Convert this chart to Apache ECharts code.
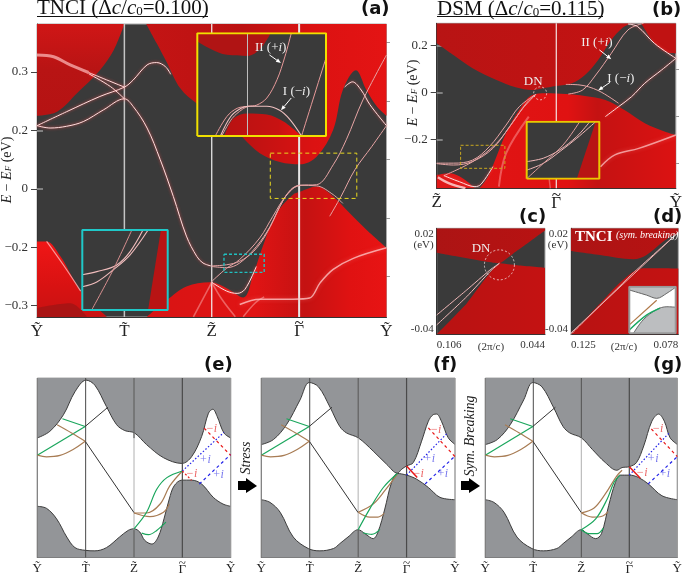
<!DOCTYPE html>
<html><head><meta charset="utf-8">
<style>html,body{margin:0;padding:0;background:#fff}#c{width:685px;height:576px}</style>
<script src="https://cdn.jsdelivr.net/npm/echarts@6/dist/echarts.min.js"></script>
</head><body><div id="c"></div>
<script>
// ---------- tick labels ----------
const pathLabelsA = ['Ỹ','T̃','Z̃','{t|~}\n{g|Γ}','Ỹ'];
const pathLabelsB = ['Z̃','{t|~}\n{g|Γ}','Ỹ'];
const yTickLabelsA = ['−0.3','−0.2','0','0.2','0.3'];
// ---------- panel (a): x = path position, y = tick position ----------
const aUpLeft = [[0,1.25],[.23,1.32],[.46,1.64],[.72,2.03],[.88,2.38],[1,2.82]];
const aUpRight = [[1.25,2.82],[1.37,2.49],[1.49,2.15],[1.64,1.72],[1.83,1.46],[2,1.35],[2.17,1.18],[2.36,.87],[2.55,.61],[2.78,.46],[3.01,.42],[3.2,.55],[3.39,1.01],[3.5,1.69],[3.65,2.03],[3.77,1.69],[3.89,1.41],[4,1.25]];
const aLowLeft = [[0,-.9],[.11,-.9],[.27,-1.16],[.4,-1.5],[.53,-1.81],[.69,-2.04],[.8,-2.19]];
const aLowPatch = [[0,-2.04],[.38,-1.96],[.57,-2.19]];
const aLowMid = [[1.26,-2.19],[1.49,-1.9],[1.71,-1.67],[1.98,-1.6],[2.17,-1.7],[2.36,-1.86],[2.48,-1.44],[2.59,-.96],[2.74,-.42],[2.93,-.1],[3.01,-.05],[3.2,.04],[3.39,-.13],[3.58,-.42],[3.77,-.7],[4,-1.01]];
const aBandA = [[0,1.08],[.15,1.04],[.34,1.07],[.53,1.15],[.76,1.35],[1,1.54],[1.1,1.41],[1.26,1.04],[1.41,.5],[1.56,-.13],[1.71,-.81],[1.83,-1.16],[1.9,-1.27],[1.99,-1.32]];
const aBandB = [[0,1.08],[.34,1.32],[.72,1.58],[1,1.74],[1.1,1.86],[1.26,2.12],[1.37,2.16],[1.47,2.09],[1.53,1.96]];
const aBandC = [[.59,1.99],[1,1.74]];
const aBandD = [[.59,1.97],[.84,1.75],[1,1.54]];
const aGlowTop = [[0,2.29],[.19,2.26],[.38,2.12],[.59,1.99]];
const aL1 = [[2,-1.32],[2.17,-1.3],[2.32,-1.24],[2.48,-1.07],[2.63,-.76],[2.78,-.3],[2.9,-.02],[3.01,.06],[3.2,.05],[3.39,-.1],[3.5,-.25]];
const aL2 = [[2,-1.33],[2.17,-1.35],[2.32,-1.27],[2.51,-.99],[2.67,-.64],[2.82,-.19],[2.93,.01],[3.01,.06]];
const aL3 = [[1.99,-1.6],[2.17,-1.36],[2.32,-1.21],[2.55,-.84],[2.7,-.47],[2.86,-.1],[3.01,.06],[3.2,.07],[3.39,.41],[3.54,.84],[3.73,1.52],[4,2.29]];
const aL4 = [[2,-1.6],[2.17,-1.75],[2.29,-1.79],[2.38,-1.72],[2.51,-1.33]];
const aL5 = [[3.35,-.47],[3.48,-.13],[3.64,.33],[3.83,.72],[4,1.08]];
const aL6 = [[3.52,1.74],[3.61,1.83],[3.71,1.69],[3.81,1.44],[4,1.08]];
const aL7 = [[2.32,-1.98],[2.55,-1.89],[2.93,-1.89],[3.12,-1.87],[3.24,-1.61],[3.39,-1.38],[3.62,-1.19],[4,-1.01]];
const aL8 = [[.11,-.9],[.3,-1.3],[.5,-1.75]];
const aFan1 = [[1.79,-2.19],[2,-1.6]];
const aFan2 = [[2,-1.6],[2.12,-1.9],[2.27,-2.19]];
const aFan3 = [[2.36,-2.19],[2.5,-1.95],[2.6,-1.85]];
const aBoxYellow = [[2.67,.61],[3.66,.61],[3.66,-.165],[2.67,-.165],[2.67,.61]];
const aBoxCyan = [[2.14,-1.12],[2.6,-1.12],[2.6,-1.43],[2.14,-1.43],[2.14,-1.12]];
// inset of (a), yellow, normalised
const yiRedTop = [[0,.92],[.1,.85],[.23,.79],[.39,.78],[.49,.85],[.57,1]];
const yiRedLow = [[.21,0],[.28,.17],[.39,.22],[.54,.21],[.67,.14],[.81,0]];
const yiII = [[.14,0],[.23,.19],[.31,.27],[.4,.29],[.46,.3],[.54,.37],[.62,.55],[.68,.77],[.73,1]];
const yiI = [[.18,0],[.26,.19],[.34,.27],[.4,.29],[.54,.29],[.64,.25],[.72,.16],[.81,0]];
const yiThird = [[.19,0],[.27,.17],[.35,.26],[.4,.29]];
const yiRight = [[.81,0],[1,.76]];
// inset of (a), cyan, normalised
const ciRed = [[.77,0],[.92,1],[1,1]];
const ciL1 = [[0,.44],[.17,.48],[.4,.56],[.56,.73],[.71,1]];
const ciL2 = [[0,.29],[.17,.35],[.36,.5],[.56,.69],[.77,1]];
const ciL3 = [[.11,0],[.36,.5],[.58,1]];
// ---------- panel (b): x = path position, y = eV ----------
const bUpLeft = [[0,.21],[.14,.16],[.3,.104],[.5,.054],[.66,.023],[.8,.011],[.88,.018],[1,.028],[1.13,.04],[1.24,.075],[1.35,.139],[1.46,.224],[1.55,.274],[1.62,.295]];
const bUpRight = [[1.71,.295],[1.82,.21],[1.91,.174],[2,.167]];
const bLowLeft = [[0,-.35],[.11,-.343],[.22,-.365],[.32,-.407]];
const bLowRight = [[.36,-.407],[.43,-.357],[.5,-.272],[.58,-.173],[.69,-.074],[.8,-.01],[.91,-.003],[1.08,-.006],[1.24,-.014],[1.41,-.031],[1.57,-.074],[1.74,-.13],[1.91,-.166],[2,-.18]];
const bB1 = [[0,-.3],[.14,-.3],[.3,-.287],[.44,-.23],[.58,-.138],[.69,-.06],[.83,-.007]];
const bB2 = [[0,-.302],[.14,-.308],[.3,-.293],[.47,-.237],[.61,-.145],[.72,-.067],[.83,-.007]];
const bB3 = [[.06,-.353],[.3,-.294],[.5,-.216],[.64,-.123],[.75,-.045],[.83,-.007]];
const bB4 = [[.06,-.353],[.19,-.379],[.32,-.4],[.37,-.39],[.47,-.315]];
const bI = [[1.08,.035],[1.19,.033],[1.35,.009],[1.52,-.045]];
const bII = [[1.1,-.006],[1.22,.011],[1.33,.075],[1.46,.167],[1.6,.267],[1.73,.295]];
const bPeak = [[1.6,.292],[1.68,.281],[1.82,.21],[2,.146]];
const bLow = [[1.41,-.102],[1.52,-.06],[1.63,-.017],[1.74,.04],[1.88,.096],[2,.146]];
const bGlow1 = [[1.37,-.315],[1.49,-.265],[1.69,-.237],[2,-.18]];
const bGlow2 = [[.52,-.4],[.58,-.258],[.77,-.102]];
const bGlow3 = [[.01,-.36],[.1,-.385],[.24,-.407]];
const bGlow4 = [[.9,-.2],[.93,-.32],[.95,-.407]];
const bBox = [[.2,-.224],[.57,-.224],[.57,-.322],[.2,-.322],[.2,-.224]];
const bDN = [[.865,-.003]];
// inset of (b), normalised
const biRed = [[.69,0],[.95,1],[1,1]];
const biL1 = [[0,.3],[.23,.36],[.46,.51],[.69,.74],[.87,1]];
const biL2 = [[0,.15],[.23,.27],[.46,.48],[.69,.71],[.95,1]];
const biL3 = [[0,0],[.23,.27],[.5,.59],[.73,1]];
// ---------- panel (c): x = 2π/c, y = eV ----------
const cUp = [[.106,.0062],[.0701,.0002],[.0621,.0058],[.0526,.0125],[.044,.0187]];
const cLow = [[.106,-.04],[.0888,-.0225],[.0701,.0002],[.0602,-.0009],[.044,-.0023]];
const cL1 = [[.106,-.0291],[.0888,-.0149],[.0755,-.0036],[.0701,.0002]];
const cL2 = [[.106,-.0347],[.0888,-.0187],[.0755,-.0045],[.0701,.0002]];
const cDN = [[.0701,-.0007]];
// ---------- panel (d) ----------
const dUp = [[.125,.0072],[.1123,.0049],[.0977,.0025],[.0919,.0049],[.0846,.0125],[.078,.0177]];
const dLow = [[.125,-.04],[.1123,-.0225],[.1006,-.0074],[.0933,-.0026],[.086,-.0026],[.078,-.0028]];
const dL1 = [[.125,-.0392],[.078,.0177]];
const dL2 = [[.125,-.04],[.1123,-.0237],[.0977,-.0052],[.078,.0177]];
const diUp = [[0,.93],[.37,.82],[.59,.75],[.81,.86],[1,.99]];
const diLow = [[.09,0],[.3,.29],[.59,.51],[.81,.57],[1,.56]];
const diBrown = [[0,.18],[.59,.71]];
const diGreen = [[0,.07],[.37,.39],[.66,.54]];
// ---------- panels (e)(f)(g): x = path position, y = schematic energy 0-100 ----------
const eUp = [[0,66.6],[.26,70.3],[.54,79.5],[.78,92.4],[1.01,98.8],[1.19,96],[1.43,84.1],[1.64,74],[1.81,70.7],[2.01,69.4],[2.26,62.9],[2.61,55.6],[2.99,52.4],[3.19,56.1],[3.4,67.5],[3.54,80.4],[3.63,82.6],[3.72,78.6],[3.86,69.4],[4,66.6]];
const eLow = [[0,28.5],[.19,27.4],[.4,21.5],[.61,11.4],[.78,5.5],[.99,4],[1.19,3.7],[1.43,5.5],[1.7,11.4],[1.88,15.1],[2,16],[2.12,14.2],[2.22,9.6],[2.37,7.5],[2.5,11.4],[2.62,21.5],[2.73,32.6],[2.83,39.9],[2.99,43.1],[3.19,43.1],[3.4,40.9],[3.64,33.5],[3.84,29.8],[4,28.5]];
const fUp = [[0,62.9],[.25,65.7],[.52,74],[.8,87.8],[.99,97.5],[1.18,95.1],[1.42,83.7],[1.62,73],[1.76,69.4],[2,66.7],[2.31,59.3],[2.59,51.9],[2.81,47],[2.9,49.2],[3,51],[3.14,52.9],[3.31,64.8],[3.45,75.9],[3.55,79.6],[3.62,79.9],[3.72,75.9],[3.86,66.7],[4,63]];
const fLow = [[0,32.2],[.18,30.7],[.39,25.2],[.66,11.4],[.97,5],[1.21,3.7],[1.49,5],[1.62,7.7],[1.79,11.4],[2,15.5],[2.14,13.3],[2.31,10.5],[2.41,14.2],[2.55,27],[2.69,41.8],[2.81,46.8],[3,45.9],[3.21,43.6],[3.45,39],[3.69,33.5],[4,32.2]];
const gUp = [[0,62.9],[.25,65.7],[.52,74],[.8,87.8],[.99,97.5],[1.18,95.1],[1.42,83.7],[1.62,73],[1.76,69.4],[2,66.7],[2.23,60.2],[2.5,52.9],[2.74,48.6],[2.85,50.1],[3,50.6],[3.15,52.9],[3.3,62.1],[3.47,75.9],[3.61,79.9],[3.73,75.9],[3.85,66.7],[4,63]];
const gLow = [[0,32.2],[.18,30.7],[.39,25.2],[.66,11.4],[.97,5],[1.21,3.7],[1.49,5],[1.62,7.7],[1.79,11.4],[2,15.5],[2.12,13.3],[2.3,10.5],[2.42,13.3],[2.57,28.9],[2.71,41.8],[2.81,45.9],[3,45.9],[3.19,44.6],[3.4,40.9],[3.68,34.4],[4,32.2]];
const sGreenL = [[0,57],[.99,73]];
const sGreenS = [[.52,77.3],[.99,73]];
const sBlackUp = [[.99,73],[1.46,83.7]];
const sBrownA = [[0,57],[.19,56.1],[.47,56.9],[.74,60.2],[.99,64.8]];
const sBrownB = [[.41,74],[.71,69.4],[.99,64.8]];
const sBlackDown = [[.99,64.8],[2,25]];
const eBrown1 = [[2,24.8],[2.26,24.8],[2.54,29.8],[2.74,39.9],[3,48.2]];
const eBrown2 = [[2,24.8],[2.33,22.8],[2.61,25.2],[2.73,29.8]];
const eGreen1 = [[2,16],[2.26,25.2],[2.47,38],[2.68,44.5],[3,48.2]];
const eGreen2 = [[2.16,13.6],[2.3,12.7],[2.47,15.1],[2.66,19.7]];
const eDot = [[3,48.2],[3.86,69.7]], eDash = [[3.35,40.9],[4,57.4]], eRed1 = [[3,48.2],[3.19,43]], eRed2 = [[3.45,72.1],[4,56.9]];
const fBrown1 = [[2,25.2],[2.31,29.8],[2.55,37.2],[2.81,46.4]];
const fBrown2 = [[2,25.2],[2.24,22.5],[2.41,22.5],[2.54,24.7]];
const fGreen1 = [[2,15.5],[2.24,27.1],[2.52,39],[2.81,46.8]];
const fGreen2 = [[2.1,13.8],[2.28,12.9],[2.45,15.7]];
const fDot = [[3,45.9],[3.83,69]], fDash = [[3.38,40.9],[4,56.5]], fRed1 = [[3,51],[3.22,44.6]], fRed2 = [[3.45,72.2],[4,56.2]];
const gBrown1 = [[2,24.9],[2.26,27.4],[2.5,35.4],[2.74,45.5],[2.85,48.6]];
const gBrown2 = [[2,24.9],[2.23,22.5],[2.43,23],[2.56,25.6]];
const gGreen1 = [[2,15.5],[2.3,21.5],[2.54,32.6],[2.68,41.8],[2.81,45.9]];
const gGreen2 = [[2,15.5],[2.16,13.3],[2.33,13.3],[2.46,16.4]];
const gDot = [[3,45.9],[3.83,69.4]], gDash = [[3.39,40.9],[4,56.2]], gRed1 = [[3,50.6],[3.23,44.2]], gRed2 = [[3.46,71.6],[4,56.2]];

// ---------- builders ----------
const SERIF = '"Liberation Serif","DejaVu Serif",serif';
const DARK = '#3a3a3a', GRAY = '#939598', PINK = '#ffdede';
const grids = [], xAxes = [], yAxes = [], series = [];
const chart = echarts.init(document.getElementById('c'));
const grad = (stops, v) => new echarts.graphic.LinearGradient(0, 0, v?0:1, v?1:0, stops.map(s => ({offset:s[0], color:s[1]})));
const gammaRich = size => ({
  g:{fontFamily:SERIF,fontSize:size,color:'#222',lineHeight:size-3},
  t:{fontFamily:SERIF,fontSize:size,color:'#222',lineHeight:2}});

function addGrid(o) {
  const g = grids.length;
  grids.push({left:o.l, top:o.t, width:o.w, height:o.h, containLabel:false, show:!!o.bg,
    backgroundColor:o.bg||'transparent', borderColor:o.border||'#aaa', borderWidth:o.bg?1:0});
  const hidden = {show:false};
  xAxes.push(Object.assign({gridIndex:g, type:'value', min:o.x[0], max:o.x[1], splitLine:hidden,
    axisLine:o.xl?{show:true,onZero:false,lineStyle:{color:'#333',width:1}}:hidden, axisTick:hidden,
    axisLabel:o.xl?o.xl:hidden}, o.xo||{}));
  const yi = yAxes.length;
  yAxes.push({gridIndex:g, type:'value', min:o.y[0], max:o.y[1], splitLine:hidden,
    axisLine:o.yl?{show:true,onZero:false,lineStyle:{color:'#333',width:1}}:hidden,
    axisTick:o.ym?{show:true,length:6,customValues:o.ym,lineStyle:{color:'#444'}}:hidden,
    axisLabel:o.yl||hidden});
  if (o.ym) {
    yAxes.push({gridIndex:g,type:'value',min:o.y[0],max:o.y[1],position:'right',splitLine:hidden,
      axisLine:{show:false},axisLabel:hidden,axisTick:{show:true,length:6,customValues:o.ym,lineStyle:{color:'#999',width:1.5}}});
    yAxes.push({gridIndex:g,type:'value',min:o.y[0],max:o.y[1],splitLine:hidden,
      axisLine:{show:false},axisLabel:hidden,axisTick:{show:true,length:3,customValues:o.yn,lineStyle:{color:'#444'}}});
    yAxes.push({gridIndex:g,type:'value',min:o.y[0],max:o.y[1],position:'right',splitLine:hidden,
      axisLine:{show:false},axisLabel:hidden,axisTick:{show:true,length:3,customValues:o.yn,lineStyle:{color:'#999'}}});
  }
  return {x:g, y:yi};
}
function area(g, pts, dir, color, z, border, smooth) {
  series.push({type:'line', xAxisIndex:g.x, yAxisIndex:g.y, data:pts, smooth:smooth===undefined?.35:smooth, showSymbol:false, silent:true, animation:false, z:z||2,
    lineStyle: border?{color:border,width:1}:{width:0,opacity:0},
    areaStyle:{origin:dir==='up'?'end':'start', color:color, opacity:1}});
}
function line(g, pts, color, width, o) {
  o = o||{};
  series.push({type:'line', xAxisIndex:g.x, yAxisIndex:g.y, data:pts, smooth:o.smooth===undefined?.35:o.smooth, showSymbol:false, silent:true, animation:false, z:o.z||3,
    lineStyle:{color:color, width:width, type:o.type||'solid', opacity:o.opacity===undefined?1:o.opacity, shadowColor:o.glow||'transparent', shadowBlur:o.glow?(o.blur||4):0}});
}
function glow(g, pts, z) { line(g, pts, PINK, 1, {glow:'rgba(255,80,80,.9)', blur:3, z:z||4}); }
function thin(g, pts, z) { line(g, pts, '#e7a5a5', 1, {z:z||4}); }
function vert(g, x, y0, y1, color, width, z) { line(g, [[x,y0],[x,y1]], color, width, {smooth:false, z:z||3}); }
function label(g, x, y, text, fill, font, rich, z, rot) {
  series.push({type:'custom', xAxisIndex:g.x, yAxisIndex:g.y, coordinateSystem:'cartesian2d', data:[[x,y]], silent:true, animation:false, z:z||6,
    renderItem:(p,api)=>{const c=api.coord([api.value(0),api.value(1)]);
      return {type:'text',x:c[0],y:c[1],rotation:rot||0,style:{text,fill,font,align:'center',verticalAlign:'middle',rich:rich||undefined}};}});
}
function arrow(g, a, b, color, z) {
  series.push({type:'custom', xAxisIndex:g.x, yAxisIndex:g.y, coordinateSystem:'cartesian2d', data:[[a[0],a[1],b[0],b[1]]], silent:true, animation:false, z:z||6,
    renderItem:(p,api)=>{const s=api.coord([api.value(0),api.value(1)]),e=api.coord([api.value(2),api.value(3)]);
      const t=Math.atan2(e[1]-s[1],e[0]-s[0]),L=5,W=2;
      const h=[e[0]-L*Math.cos(t),e[1]-L*Math.sin(t)];
      return {type:'group',children:[
        {type:'line',shape:{x1:s[0],y1:s[1],x2:h[0],y2:h[1]},style:{stroke:color,lineWidth:1}},
        {type:'polygon',shape:{points:[e,[h[0]-W*Math.sin(t),h[1]+W*Math.cos(t)],[h[0]+W*Math.sin(t),h[1]-W*Math.cos(t)]]},style:{fill:color}}]};}});
}
function circle(g, pts, size, z) {
  series.push({type:'scatter', xAxisIndex:g.x, yAxisIndex:g.y, data:pts, symbol:'circle', symbolSize:size, silent:true, animation:false, z:z||6,
    itemStyle:{color:'rgba(0,0,0,0)',borderColor:'#f2dede',borderWidth:1,borderType:[2,2]}});
}
function insetFrame(g, color, bg) {
  area(g, [[0,1],[1,1]], 'down', bg, 10);
  line(g, [[0,0],[1,0],[1,1],[0,1],[0,0]], color, 2, {smooth:false, z:15});
}
const irich = {i:{font:'italic 13px '+SERIF,fill:'#eee',color:'#eee'}, n:{font:'13px '+SERIF,fill:'#eee',color:'#eee'}};

// ---------- (a) ----------
const a = addGrid({l:37,t:24,w:349.5,h:293,x:[0,4],y:[-2.194,2.82],bg:DARK,
  ym:[-2,-1,0,1,2],yn:[-1.5,-.5,.5,1.5,2.5],
  yl:{show:true,customValues:[-2,-1,0,1,2],margin:9,fontFamily:SERIF,fontSize:13,color:'#333',formatter:v=>yTickLabelsA[Math.round(v)+2]},
  xl:{show:true,customValues:[0,1,2,3,4],margin:6,fontFamily:SERIF,fontSize:17,color:'#222',rich:gammaRich(17),formatter:v=>pathLabelsA[Math.round(v)]}});
area(a,aUpLeft,'up',grad([[0,'#d01616'],[.5,'#b81414'],[1,'#b51313']],true),2);
area(a,aUpRight,'up',grad([[0,'#c41414'],[.4,'#bb1212'],[.7,'#dc1212'],[1,'#e41414']]),2);
area(a,aLowLeft,'down',grad([[0,'#f01616'],[.6,'#d81212'],[1,'#c81212']],true),2);
area(a,aLowPatch,'down','#a91414',2);
area(a,aLowMid,'down',grad([[0,'#d81414'],[.45,'#e01414'],[.66,'#c41212'],[.85,'#e01212'],[1,'#e81414']]),2);
vert(a,1,-2.194,2.82,'#c4c4c4',1.5,3); vert(a,2,-2.194,2.82,'#f4f4f4',1.2,3); vert(a,3,-2.194,2.82,'#e8e8e8',2,3);
line(a,aGlowTop,'rgba(255,190,190,.7)',3,{z:3});
line(a,aL7,'rgba(255,205,205,.75)',1.5,{z:3,glow:'rgba(255,120,120,.7)'});
line(a,aL8,'rgba(255,205,205,.7)',1.2,{z:3});
[aFan1,aFan2,aFan3].forEach(p=>line(a,p,'rgba(255,190,190,.45)',1.6,{z:3}));
[aBandA,aBandB,aBandC,aBandD,aL4,aL6].forEach(p=>glow(a,p));
[aL1,aL2,aL3,aL5].forEach(p=>thin(a,p));
line(a,aBoxYellow,'#e8d820',1,{smooth:false,type:[4,3],z:5});
line(a,aBoxCyan,'#20c0c0',1.4,{smooth:false,type:[3,2],z:5});
// yellow inset
const ai = addGrid({l:197.3,t:33.3,w:128.7,h:102.7,x:[0,1],y:[0,1]});
insetFrame(ai,'#f0e000',DARK);
area(ai,yiRedTop,'up','#b01414',11);
area(ai,yiRedLow,'down',grad([[0,'#b81212'],[.7,'#c81212'],[1,'#e81212']]),11);
vert(ai,.39,0,1,'#c0c0c0',1,12);
[yiII,yiThird,yiRight].forEach(p=>line(ai,p,'#e79a9a',1,{z:13}));
line(ai,yiI,'#f0c0c0',1.1,{z:13});
label(ai,.57,.86,'{n|II (+}{i|i}{n|)}','#eee','13px '+SERIF,irich,14);
label(ai,.77,.43,'{n|I (−}{i|i}{n|)}','#eee','13px '+SERIF,irich,14);
arrow(ai,[.56,.79],[.65,.71],'#fff',14);
arrow(ai,[.73,.37],[.65,.25],'#fff',14);
// cyan inset
const ac = addGrid({l:82.3,t:230,w:85.4,h:80,x:[0,1],y:[0,1]});
insetFrame(ac,'#20c8c8',DARK);
area(ac,ciRed,'down','#b81414',11,undefined,false);
line(ac,ciL1,'#f0bcbc',1.1,{z:13}); line(ac,ciL2,'#f0bcbc',1.1,{z:13}); line(ac,ciL3,'#d89090',1,{z:13});

// ---------- (b) ----------
const b = addGrid({l:436.7,t:23.3,w:241.6,h:165,x:[0,2],y:[-.407,.295],bg:DARK,
  ym:[-.2,0,.2],yn:[-.3,-.1,.1],
  yl:{show:true,customValues:[-.2,0,.2],margin:9,fontFamily:SERIF,fontSize:13,color:'#333',formatter:v=>v===0?'0':(v<0?'−':'')+Math.abs(v).toFixed(1)},
  xl:{show:true,customValues:[0,1,2],margin:6,fontFamily:SERIF,fontSize:17,color:'#222',rich:gammaRich(17),formatter:v=>pathLabelsB[Math.round(v)]}});
area(b,bUpLeft,'up',grad([[0,'#b81414'],[1,'#c41212']]),2);
area(b,bUpRight,'up','#c01212',2);
area(b,bLowLeft,'down','#e01818',2);
area(b,bLowRight,'down',grad([[0,'#e01414'],[.45,'#e01212'],[.6,'#c41212'],[.8,'#d01212'],[1,'#dc1212']]),2);
vert(b,1,-.407,.295,'#f4e4e4',1.2,3);
line(b,bGlow1,'rgba(255,205,205,.7)',1.5,{z:3,glow:'rgba(255,120,120,.7)'});
line(b,bGlow2,'rgba(255,170,170,.45)',2,{z:3});
line(b,bGlow3,'rgba(255,220,220,.8)',2.5,{z:3});
line(b,bGlow4,'rgba(255,190,190,.4)',1.5,{z:3});
[bB1,bB2,bB3,bI,bII].forEach(p=>thin(b,p));
[bB4,bPeak,bLow].forEach(p=>glow(b,p));
line(b,bBox,'#c8a820',1,{smooth:false,type:[3,2],z:5});
circle(b,bDN,13);
label(b,.807,.045,'DN','#eee','13px '+SERIF);
label(b,1.34,.213,'{n|II (+}{i|i}{n|)}','#eee','13px '+SERIF,irich);
label(b,1.54,.058,'{n|I (−}{i|i}{n|)}','#eee','13px '+SERIF,irich);
arrow(b,[1.36,.182],[1.46,.142],'#fff');
arrow(b,[1.45,.044],[1.35,.009],'#fff');
const bi = addGrid({l:526.7,t:121.7,w:72.6,h:57,x:[0,1],y:[0,1]});
insetFrame(bi,'#e8c800',DARK);
area(bi,biRed,'down','#b81414',11,undefined,false);
[biL1,biL2].forEach(p=>line(bi,p,'#f0b8b8',1,{z:13}));
line(bi,biL3,'#dc9c9c',1,{z:13});

// ---------- (c) (d) ----------
const smallY = {show:true,customValues:[-.04,.02],margin:3,fontFamily:SERIF,fontSize:11,lineHeight:11,color:'#333',verticalAlignMaxLabel:'top',verticalAlignMinLabel:'bottom',
  formatter:v=>v>0?'0.02\n(eV)':'-0.04'};
const smallX = vals=>({show:true,customValues:vals,margin:5,fontFamily:SERIF,fontSize:11,color:'#333',alignMinLabel:'right',alignMaxLabel:'left',formatter:v=>v.toFixed(3)});
const c = addGrid({l:436.7,t:228.3,w:108.3,h:106,x:[.044,.106],y:[-.04,.02],bg:DARK,yl:smallY,xl:smallX([.044,.106]),xo:{inverse:true}});
area(c,cUp,'up',grad([[0,'#ac1414'],[1,'#b81212']]),2,undefined,.1);
area(c,cLow,'down',grad([[0,'#b81212'],[1,'#c41212']]),2,undefined,.1);
line(c,cL1,'#efb8b8',1,{z:3,smooth:.2}); line(c,cL2,'#efb8b8',1,{z:3,smooth:.2});
circle(c,cDN,30);
label(c,.0806,.0087,'DN','#eee','13px '+SERIF);
const d = addGrid({l:571,t:228.3,w:107.3,h:106,x:[.078,.125],y:[-.04,.02],bg:DARK,yl:smallY,xl:smallX([.078,.125]),xo:{inverse:true}});
area(d,dUp,'up',grad([[0,'#ac1414'],[1,'#b81212']]),2);
area(d,dLow,'down',grad([[0,'#b81212'],[1,'#c41212']]),2);
line(d,dL1,'#e8b0b0',1,{z:3,smooth:false}); line(d,dL2,'#e8b0b0',1,{z:3,smooth:.1});
const di = addGrid({l:629.3,t:286.7,w:46.4,h:46.6,x:[0,1],y:[0,1]});
insetFrame(di,'#999','#ffffff');
area(di,diUp,'up','#bcbec0',11,'#666');
area(di,diLow,'down','#bcbec0',11,'#666');
line(di,diBrown,'#b07848',1.2,{z:13,smooth:false});
line(di,diGreen,'#18a860',1.4,{z:13});

// ---------- (e)(f)(g) ----------
function schem(l, w, up, low, br1, br2, gr1, gr2, dot, dash, r1, r2, rSolid, lbl) {
  const g = addGrid({l:l,t:378,w:w,h:181,x:[0,4],y:[0,100],bg:'#ffffff',
    xl:{show:true,customValues:[0,1,2,3,4],margin:5,fontFamily:SERIF,fontSize:13,color:'#222',rich:gammaRich(13),formatter:v=>pathLabelsA[Math.round(v)]}});
  xAxes[g.x].axisLine.lineStyle.color='#666';
  area(g,up,'up',GRAY,2,'#3c3c3c');
  area(g,low,'down',GRAY,2,'#3c3c3c');
  vert(g,1,0,100,'#4a4a4a',1,3);
  vert(g,2,0,100,'#b0b0b0',1,3);
  vert(g,2,66.5,100,'#4a4a4a',1,3);
  vert(g,2,0,15.6,'#4a4a4a',1,3);
  vert(g,3,0,100,'#4a4a4a',1.2,3);
  vert(g,0,0,100,'#777',1,3);
  vert(g,4,0,100,'#999',1,3);
  const G='#1aa65c',B='#a87c54',K='#333';
  line(g,sGreenL,G,1.2,{smooth:false,z:4}); line(g,sGreenS,G,1.2,{smooth:false,z:4});
  line(g,sBlackUp,K,1,{smooth:false,z:4}); line(g,sBlackDown,K,1,{smooth:false,z:4});
  line(g,sBrownA,B,1.2,{z:4}); line(g,sBrownB,B,1.2,{z:4});
  line(g,br1,B,1.2,{z:4}); line(g,br2,B,1.2,{z:4});
  line(g,gr1,G,1.2,{z:4}); line(g,gr2,G,1.2,{z:4});
  line(g,dot,'#2020e8',1.2,{smooth:false,type:[1.5,2],z:5});
  line(g,dash,'#2020e8',1.2,{smooth:false,type:[3,3],z:5});
  line(g,r1,'#e81818',rSolid?1.5:1.2,{smooth:false,type:rSolid?'solid':[2,2],z:5});
  line(g,r2,'#e81818',1.2,{smooth:false,type:[3,3],z:5});
  const red='rgba(230,60,60,.8)', blue='rgba(60,60,230,.7)';
  label(g,lbl[0][0],lbl[0][1],'−i',red,'italic 12px '+SERIF);
  label(g,lbl[1][0],lbl[1][1],'−i',red,'italic 12px '+SERIF);
  label(g,lbl[2][0],lbl[2][1],'+i',blue,'italic 12px '+SERIF);
  label(g,lbl[3][0],lbl[3][1],'+i',blue,'italic 12px '+SERIF);
}
schem(37.3,193.4,eUp,eLow,eBrown1,eBrown2,eGreen1,eGreen2,eDot,eDash,eRed1,eRed2,false,[[3.19,46.5],[3.6,71.5],[3.47,54.5],[3.74,46]]);
schem(261.3,193.7,fUp,fLow,fBrown1,fBrown2,fGreen1,fGreen2,fDot,fDash,fRed1,fRed2,true,[[3.24,46.4],[3.6,71.3],[3.47,55],[3.74,46.4]]);
schem(485.3,193.4,gUp,gLow,gBrown1,gBrown2,gGreen1,gGreen2,gDot,gDash,gRed1,gRed2,true,[[3.26,47],[3.59,71.6],[3.49,54.7],[3.73,46.4]]);

// ---------- page text ----------
const trich = {t:{font:'21px '+SERIF,fill:'#111'},i:{font:'italic 21px '+SERIF,fill:'#111'},s:{font:'13px '+SERIF,fill:'#111',padding:[8,0,0,0]}};
const txt = (x,y,text,font,o)=>Object.assign({type:'text',x:x,y:y,silent:true,z:50,style:Object.assign({text,font,fill:'#111',align:'left',verticalAlign:'middle'},o&&o.style||{})},o&&o.el||{});
const BOLD='bold 18px "DejaVu Sans",sans-serif';
const eRich = {n:{font:'14px '+SERIF,fill:'#222'},i:{font:'italic 14px '+SERIF,fill:'#222'},s:{font:'italic 9px '+SERIF,fill:'#222',padding:[4,0,0,0]}};
const graphicEls = [
  txt(37,8,'{t|TNCI (Δ}{i|c}{t|/}{i|c}{s|0}{t|=0.100)}','21px '+SERIF,{style:{rich:trich}}),
  txt(437,9,'{t|DSM (Δ}{i|c}{t|/}{i|c}{s|0}{t|=0.115)}','21px '+SERIF,{style:{rich:trich}}),
  {type:'rect',shape:{x:37,y:16,width:171,height:1},style:{fill:'#111'},z:50,silent:true},
  {type:'rect',shape:{x:437,y:16,width:166,height:1},style:{fill:'#111'},z:50,silent:true},
  txt(361,9,'(a)',BOLD), txt(652,10,'(b)',BOLD), txt(519,217,'(c)',BOLD), txt(653,217,'(d)',BOLD),
  txt(204,365,'(e)',BOLD), txt(433,365,'(f)',BOLD), txt(653,365,'(g)',BOLD),
  txt(7,170,'{i|E} {n|− }{i|E}{s|F} {n|(eV)}','14px '+SERIF,{style:{rich:eRich,align:'center'},el:{rotation:Math.PI/2}}),
  txt(413,93,'{i|E} {n|− }{i|E}{s|F} {n|(eV)}','14px '+SERIF,{style:{rich:eRich,align:'center'},el:{rotation:Math.PI/2}}),
  txt(491,347,'(2π/c)','11px '+SERIF,{style:{align:'center',fill:'#333'}}),
  txt(624,347,'(2π/c)','11px '+SERIF,{style:{align:'center',fill:'#333'}}),
  txt(575,237,'TNCI','bold 15px '+SERIF,{style:{fill:'#fff'}}),
  txt(616,235,'(sym. breaking)','italic 10px '+SERIF,{style:{fill:'#fff'}}),
  txt(246,458,'Stress','italic 14px '+SERIF,{style:{align:'center',fill:'#222'},el:{rotation:Math.PI/2}}),
  txt(470,436,'Sym. Breaking','italic 14px '+SERIF,{style:{align:'center',fill:'#222'},el:{rotation:Math.PI/2}}),
  {type:'polygon',shape:{points:[[238,481],[246,481],[246,478],[257,486],[246,493],[246,490],[238,490]]},style:{fill:'#000'},z:50,silent:true},
  {type:'polygon',shape:{points:[[461,481],[469,481],[469,478],[480,486],[469,493],[469,490],[461,490]]},style:{fill:'#000'},z:50,silent:true}
];
chart.setOption({animation:false, backgroundColor:'#fff', grid:grids, xAxis:xAxes, yAxis:yAxes, series:series, graphic:{elements:graphicEls}});
</script></body></html>
